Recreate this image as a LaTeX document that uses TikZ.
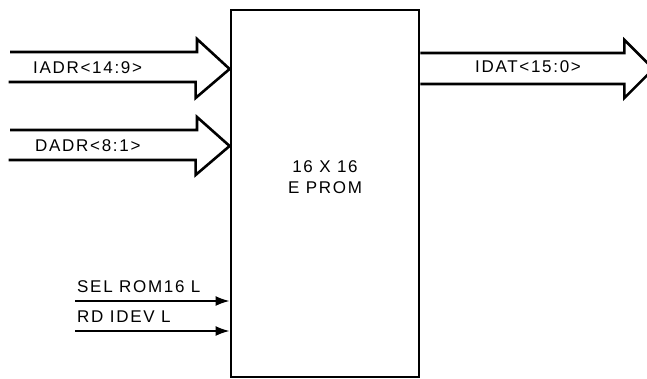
\documentclass[tikz,border=0pt]{standalone}
\usepackage{fontspec}
\setmainfont{Liberation Sans}[LetterSpace=10]
\usetikzlibrary{positioning, arrows.meta}
\tikzset{
    >={Latex[length=14pt, width=10pt]},
    block/.style={draw, line width=2.8pt, minimum width=188pt, minimum height=367pt, inner sep=0pt},
    bus/.style={line width=2.6pt, line join=miter},
    sig/.style={->, line width=2pt},
    lbl/.style={font=\fontsize{17}{20}\selectfont, inner sep=0pt},
}

\begin{document}
\begin{tikzpicture}[x=1pt, y=-1pt]
    \clip (0,0) rectangle (647,379);
    \node[block] (prom) at (325,193.5) {};
    \node[lbl]   (size) at (325,167) {16 X 16};
    \node[lbl]   (kind) [below=8pt of size] {E PROM};

    % buses
    \coordinate (iadr) at (10,52);
    \coordinate (dadr) at (10,130);
    \coordinate (idat) at (prom.east |- 0,53);
    \draw[bus] (iadr) -- ++(187,0) -- ++(0,-13) -- (prom.west |- 0,69)
               -- ++(-34,29) -- ++(0,-16) -- ++(-187,0);
    \draw[bus] (dadr) -- ++(187,0) -- ++(0,-13) -- (prom.west |- 0,146)
               -- ++(-34,29) -- ++(0,-15) -- ++(-187,0);
    \draw[bus] (idat) -- ++(204,0) -- ++(0,-13) -- ++(29,29)
               -- ++(-29,29) -- ++(0,-14) -- ++(-204,0);
    \node[lbl, anchor=west] (iadr lbl) at (33,68)  {IADR<14:9>};
    \node[lbl, anchor=west] (dadr lbl) at (35,146) {DADR<8:1>};
    \node[lbl, anchor=west] (idat lbl) at (475,67) {IDAT<15:0>};

    % control lines
    \coordinate (sel) at (75,301);
    \coordinate (rd)  at (75,331);
    \draw[sig] (sel) -- (sel -| prom.west);
    \draw[sig] (rd)  -- (rd -| prom.west);
    \node[lbl, anchor=west] (sel lbl) at (77,287) {SEL ROM16 L};
    \node[lbl, anchor=west] (rd lbl)  at (77,317) {RD IDEV L};
\end{tikzpicture}
\end{document}
